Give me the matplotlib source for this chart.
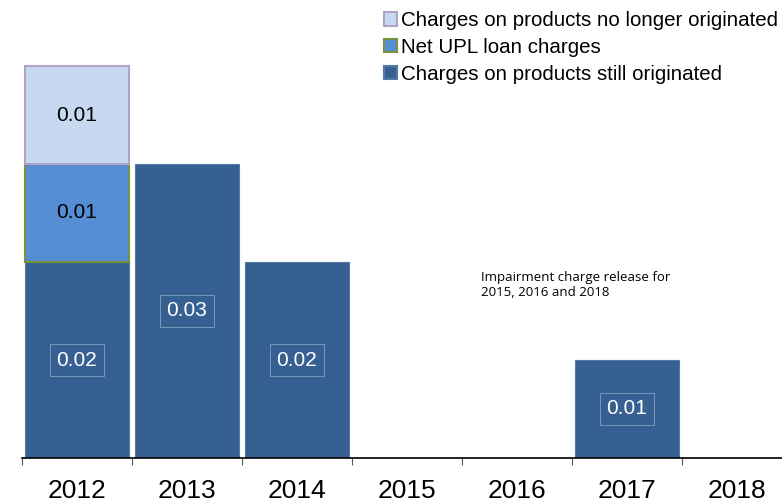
import matplotlib
matplotlib.use("Agg")
import matplotlib.pyplot as plt
from matplotlib.patches import Patch
import numpy as np

years = ["2012", "2013", "2014", "2015", "2016", "2017", "2018"]
still_originated = [0.02, 0.03, 0.02, 0.0, 0.0, 0.01, 0.0]
net_upl = [0.01, 0.0, 0.0, 0.0, 0.0, 0.0, 0.0]
no_longer_originated = [0.01, 0.0, 0.0, 0.0, 0.0, 0.0, 0.0]

series_names = ["Charges on products still originated",
                "Net UPL loan charges",
                "Charges on products no longer originated"]
face_colors = ["#366092", "#558ED5", "#C6D9F1"]
edge_colors = ["#5578A6", "#77933C", "#B3A2C7"]
edge_widths = [0.8, 1.5, 1.5]
label_colors = ["white", "black", "black"]
note = "Impairment charge release for\n2015, 2016 and 2018"

plt.rcParams["font.family"] = ["Liberation Sans", "DejaVu Sans"]

W, H = 782, 504
fig = plt.figure(figsize=(W / 100, H / 100), dpi=100)
ax = fig.add_axes([22 / W, (H - 458) / H, 770 / W, 458 / H])

x = np.arange(len(years))
bottom = np.zeros(len(years))
for vals, fc, ec, lw, lc in zip([still_originated, net_upl, no_longer_originated],
                                face_colors, edge_colors, edge_widths, label_colors):
    vals = np.array(vals)
    keep = vals > 0
    ax.bar(x[keep], vals[keep], width=0.945, bottom=bottom[keep], color=fc,
           edgecolor=ec, linewidth=lw, zorder=2)
    for xi, v, b in zip(x[keep], vals[keep], bottom[keep]):
        box = None
        if lc == "white":
            box = dict(boxstyle="square,pad=0.3", facecolor="none",
                       edgecolor=(1, 1, 1, 0.35), linewidth=0.7)
        ax.text(xi, b + v / 2, f"{v:.2f}", ha="center", va="center",
                color=lc, fontsize=15, bbox=box, zorder=3)
    bottom = bottom + vals

ax.set_xlim(-0.5, 6.5)
ax.set_ylim(0, 458 / 9800)
for s in ["top", "right", "left"]:
    ax.spines[s].set_visible(False)
ax.spines["bottom"].set_linewidth(1.2)
ax.set_yticks([])

# category labels centred, tick marks at the category boundaries
ax.set_xticks(x)
ax.set_xticklabels(years, fontsize=19)
ax.tick_params(axis="x", which="major", length=0, pad=15)
ax.set_xticks(np.arange(-0.5, 7.0, 1.0), minor=True)
ax.tick_params(axis="x", which="minor", length=5, color="#555555", width=0.8)

fig.text(481 / W, 1 - 285 / H, note, fontsize=9.5,
         family=["Open Sans", "DejaVu Sans"], va="center", ha="left")

handles = [Patch(facecolor=face_colors[i], edgecolor=edge_colors[i], linewidth=1.5)
           for i in (2, 1, 0)]
labels = [series_names[i] for i in (2, 1, 0)]
fig.legend(handles, labels, loc="upper left", bbox_to_anchor=(376 / W, 1 - 3 / H),
           frameon=False, fontsize=14.8, handlelength=0.62, handleheight=0.62,
           handletextpad=0.2, labelspacing=0.38, borderaxespad=0)

fig.savefig("out.png", dpi=100)
